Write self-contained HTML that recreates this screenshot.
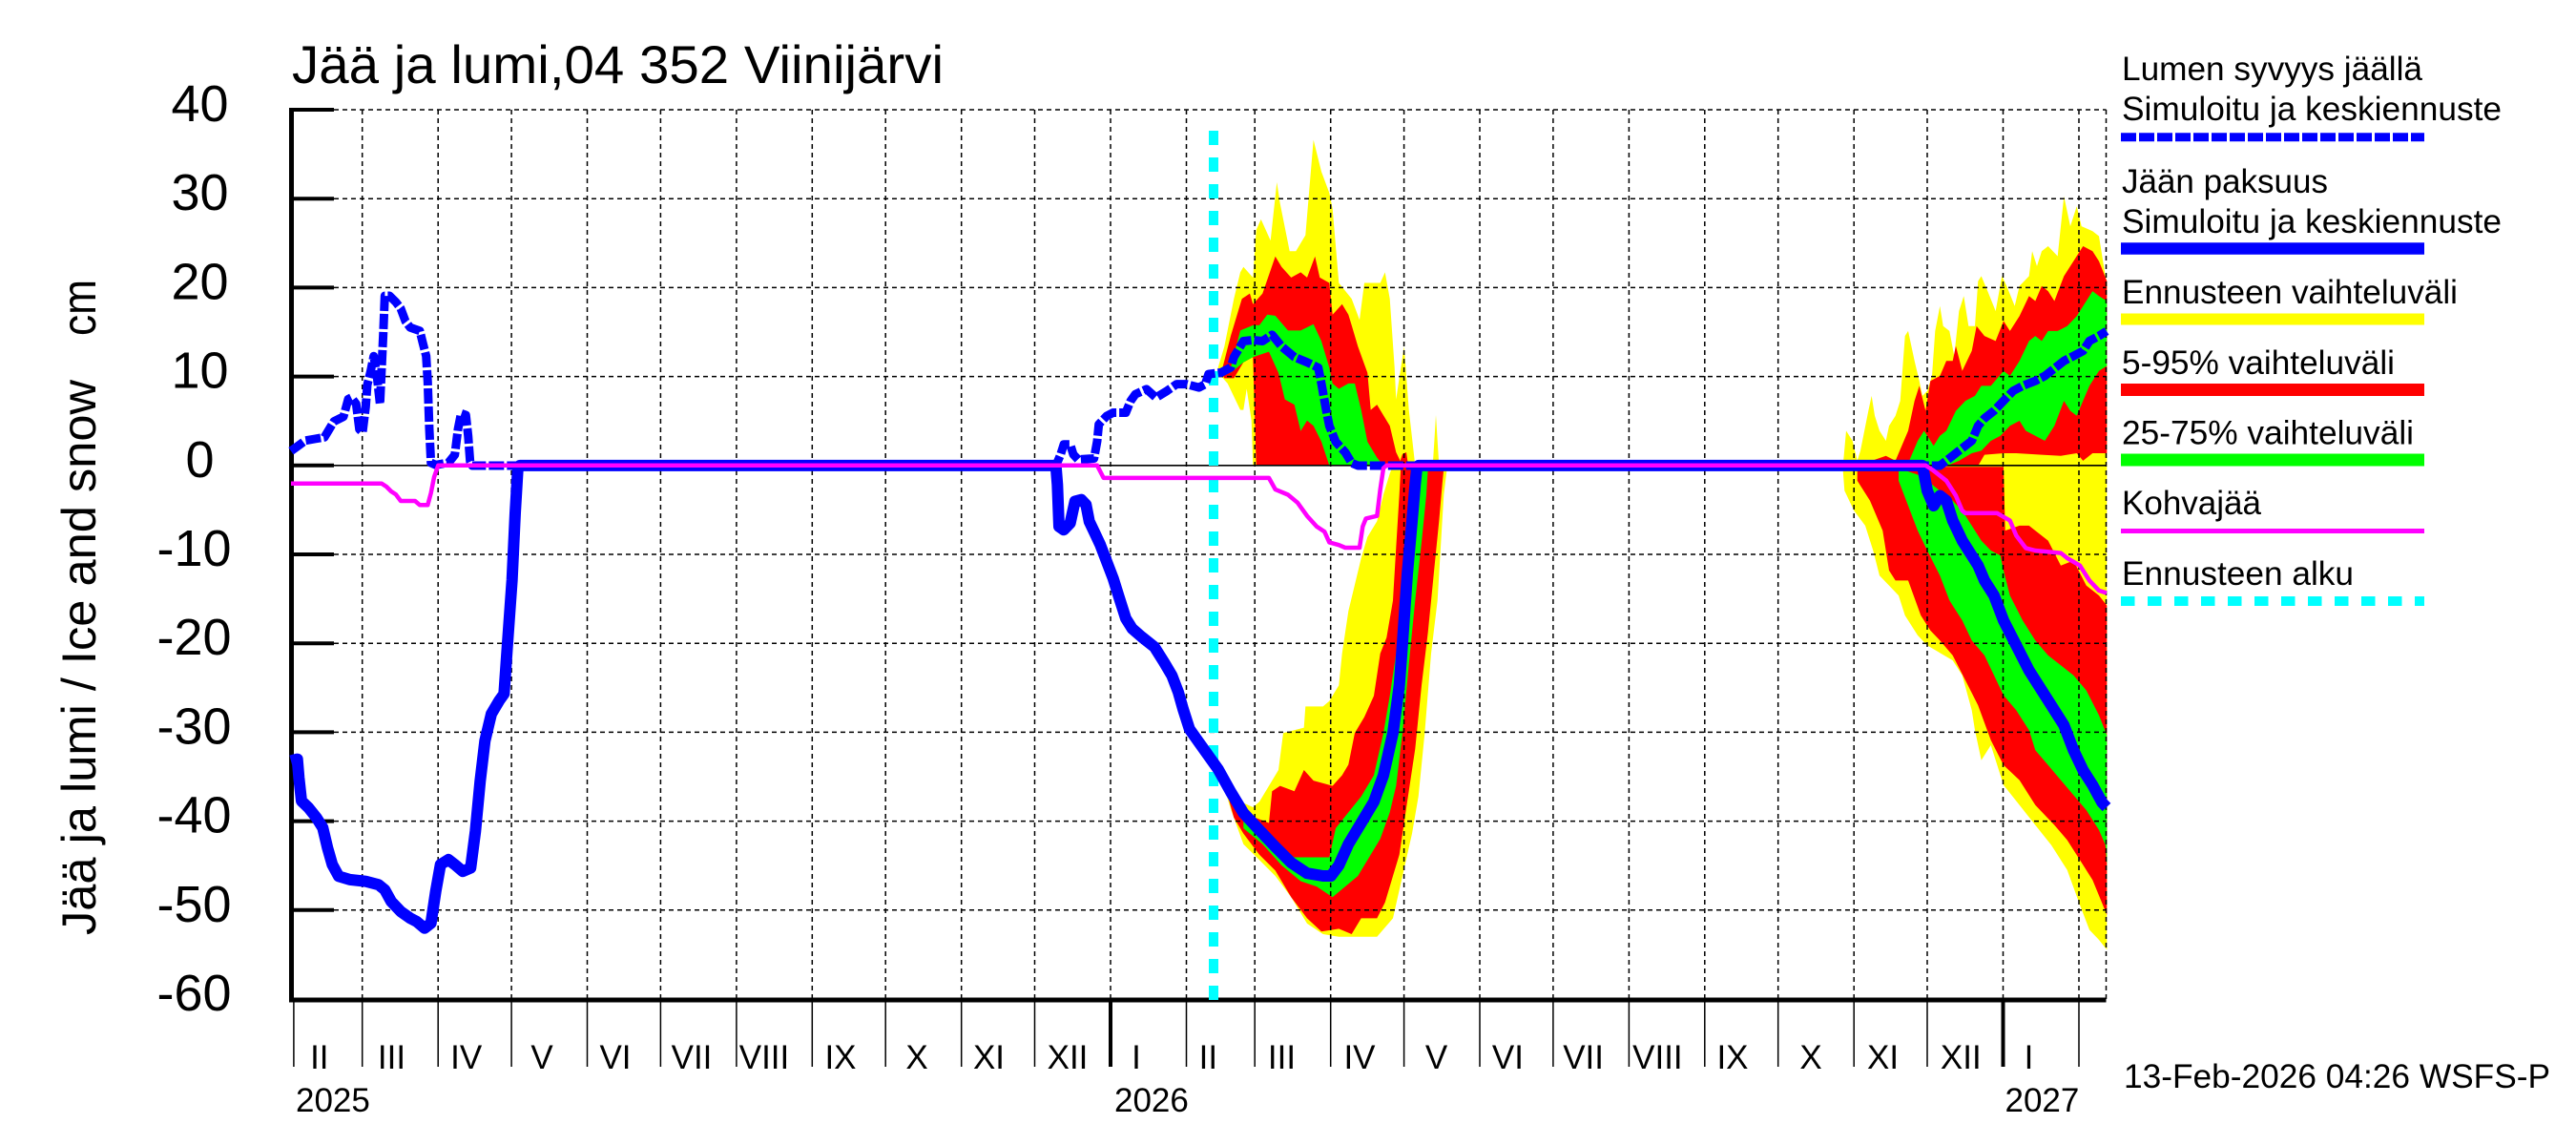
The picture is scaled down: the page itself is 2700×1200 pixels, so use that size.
<!DOCTYPE html>
<html><head><meta charset="utf-8"><style>
html,body{margin:0;padding:0;background:#fff;}
svg{display:block;}
text{font-family:"Liberation Sans",Arial,sans-serif;fill:#000;}
</style></head><body>
<svg width="2700" height="1200" viewBox="0 0 2700 1200" xmlns="http://www.w3.org/2000/svg">
<rect width="2700" height="1200" fill="#fff"/>

<!-- ===== Bands spring 2026 ===== -->
<polygon fill="#ffff00" points="1276.7,385.3 1283.3,363.1 1293.3,313.1 1300,285.4 1303.3,279.8 1313.3,290.9 1316.7,241 1321.7,229.9 1331.7,252.1 1338.3,191 1341.7,213.2 1351.7,263.2 1358.3,263.2 1368.3,246.5 1376.7,146.6 1385,179.9 1393.3,202.1 1396.7,218.8 1403.3,296.5 1416.7,313.1 1425,335.3 1430,296.5 1446.7,296.5 1451.7,285.4 1456.7,313.1 1461.7,385.3 1463.3,418.6 1468.3,385.3 1471.7,363.1 1476.7,429.6 1483.3,487.9 1313.3,487.9 1311.7,440.7 1306.7,407.5 1303.3,429.6 1300,429.6 1286.7,401.9 1276.7,390.8"/>
<polygon fill="#ffff00" points="1501.7,487.9 1503.4,462 1505,435 1506.7,462 1508.3,487.9"/>
<polygon fill="#ff0000" points="1280,390.8 1290,352 1301.7,313.1 1310,307.6 1313.3,318.7 1323.3,307.6 1336.7,268.7 1343.3,279.8 1353.3,290.9 1363.3,285.4 1370,290.9 1378.3,268.7 1383.3,290.9 1393.3,296.5 1396.7,329.8 1406.7,318.7 1413.3,329.8 1416.7,340.9 1423.3,363.1 1433.3,390.8 1436.7,429.6 1443.3,424.1 1450,435.2 1456.7,446.3 1463.3,474 1470,487.9 1316.7,487.9 1313.3,374.2 1303.3,379.7 1293.3,396.4 1283.3,396.4"/>
<polygon fill="#ff0000" points="1466,487.9 1470,476 1474,474 1476,487.9"/>
<polygon fill="#00ff00" points="1286.7,388 1290,385.3 1300,346.4 1313.3,340.9 1320,340.9 1328.3,329.8 1336.7,330.9 1350,346.4 1363.3,346.4 1376.7,339.8 1385,357.5 1393.3,385.3 1396.7,401.9 1403.3,407.5 1413.3,401.9 1420,401.9 1426.7,429.6 1433.3,463 1443.3,479.6 1450,487.9 1393.3,487.9 1385,462.9 1376.7,446.3 1370,440.7 1363.3,451.8 1356.7,424.1 1346.7,418.6 1340,390.8 1330,368.6 1313.3,374.2 1303.3,379.7 1290,390.8"/>

<polygon fill="#ffff00" points="1284,828 1300,840 1313.3,846 1320,840.3 1330,823.6 1340,807 1345,768.2 1366.7,762.6 1368.3,740.4 1386.7,740.4 1393.3,734.8 1403.3,718.2 1406.7,684.9 1413.3,640.5 1420,612.8 1426.7,585 1433.3,562.8 1443.3,546.2 1450,518.4 1456.7,496.2 1460,487.9 1516.7,490.7 1513.3,518.4 1510,573.9 1506.7,629.4 1500,684.9 1493.3,768.2 1486.7,834.8 1480,873.6 1470,918 1460,962.4 1443.3,981.8 1420,981.8 1403.3,981.8 1386.7,979 1370,967.9 1353.3,940.2 1336.7,918 1320,901.3 1303.3,884.7 1290,848"/>
<polygon fill="#ff0000" points="1288,838 1313.3,856 1330,862.5 1333.3,829.2 1341.7,823.6 1356.7,829.2 1366.7,807 1376.7,818.1 1396.7,823.6 1406.7,812.5 1413.3,801.4 1420,768.2 1430,751.5 1440,729.3 1446.7,684.9 1453.3,668.3 1460,629.4 1463.3,573.9 1466.7,518.4 1468.3,487.9 1513.3,490.7 1511.7,507.3 1508.3,546.2 1503.3,596.1 1496.7,662.7 1490,718.2 1483.3,784.8 1473.3,851.4 1466.7,895.8 1460,918 1451.7,945.7 1443.3,962.4 1426.7,962.4 1416.7,979 1403.3,973.4 1385,976.2 1370,962.4 1353.3,940.2 1336.7,912.4 1320,895.8 1303.3,873.6 1293.3,856.9"/>
<polygon fill="#00ff00" points="1303.3,860 1323.3,873.6 1343.3,890.2 1356.7,898.5 1393.3,898.5 1400,868 1413.3,851.4 1426.7,834.8 1440,812.5 1450,768.2 1456.7,729.3 1463.3,684.9 1468.3,629.4 1473.3,562.8 1478.3,518.4 1480,490.7 1496.7,490.7 1495,518.4 1490,568.4 1483.3,629.4 1476.7,696 1470,768.2 1463.3,823.6 1456.7,851.4 1446.7,879.1 1436.7,895.8 1423.3,918 1410,929.1 1396.7,940.2 1380,929.1 1363.3,923.5 1343.3,906.9 1323.3,884.7 1303.3,868"/>

<!-- ===== Bands autumn 2026 / winter 2027 ===== -->
<polygon fill="#ffff00" points="1931.7,488.1 1935,451.5 1941.7,462 1946.7,482.9 1950,472.4 1958.3,430.6 1961.7,414.9 1965,435.8 1970,451.5 1976.7,462 1980,446.3 1986.7,435.8 1991.7,420.1 1996.7,352.1 2000,346.9 2006.7,378.3 2011.7,399.2 2015,414.9 2020,409.7 2025,394 2028.3,346.9 2033.3,320.8 2036.7,341.7 2043.3,346.9 2048.3,373.1 2053.3,326 2058.3,310.3 2063.3,341.7 2070,341.7 2073.3,294.6 2076.7,289.4 2083.3,305.1 2091.7,326 2098.3,289.4 2103.3,299.8 2111.7,320.8 2116.7,299.8 2126.7,289.4 2130,263.2 2135,278.9 2140,263.2 2146.7,258 2156.7,268.5 2163.3,205.7 2170,237.1 2176.7,216.2 2181.7,237.1 2193.3,242.3 2200,247.5 2206.7,289.4 2208.3,294.6 2208.3,488.1 1931.7,488.1"/>
<polygon fill="#ff0000" points="1946.7,488.1 1976.7,477.7 1986.7,482.9 2000,451.5 2006.7,420.1 2011.7,404.4 2018.3,430.6 2023.3,399.2 2033.3,394 2040,378.3 2046.7,378.3 2050,362.6 2056.7,388.7 2066.7,367.8 2071.7,341.7 2080,352.1 2091.7,357.4 2100,336.4 2106.7,346.9 2116.7,331.2 2126.7,310.3 2133.3,315.5 2140,299.8 2146.7,305.1 2153.3,315.5 2163.3,289.4 2173.3,273.7 2183.3,258 2193.3,263.2 2200,273.7 2208.3,294.6 2208.3,475 2193.3,475 2183.3,482.9 2176.7,475 2160,477.7 2140,476.6 2113.3,475 2100,475 2080,476.6 2073.3,488.1 2000,488.1"/>
<polygon fill="#00ff00" points="2000,485.5 2010,462 2016.7,451.5 2026.7,467.2 2033.3,456.7 2040,451.5 2050,430.6 2060,420.1 2070,414.9 2076.7,404.4 2086.7,404.4 2100,388.7 2106.7,394 2116.7,378.3 2126.7,357.4 2133.3,352.1 2140,357.4 2146.7,346.9 2156.7,346.9 2166.7,341.7 2176.7,331.2 2186.7,315.5 2193.3,305.1 2200,310.3 2208.3,315.5 2208.3,383.5 2200,388.7 2190,404.4 2183.3,420.1 2176.7,435.8 2170,430.6 2163.3,420.1 2153.3,446.3 2143.3,462 2133.3,456.7 2123.3,451.5 2116.7,441 2106.7,446.3 2096.7,456.7 2086.7,462 2076.7,472.4 2066.7,475 2053.3,482.9 2043.3,487.1 2010,488.1"/>

<polygon fill="#ffff00" points="1931.7,488.1 2208.3,488.1 2208.3,995.4 2200,985 2190,974.5 2180,948.4 2166.7,911.8 2150,885.6 2133.3,864.7 2116.7,843.8 2100,822.8 2086.7,781 2076.7,796.7 2070,765.3 2066.7,744.4 2056.7,707.8 2046.7,692.1 2033.3,684.2 2020,676.4 2010,665.9 1996.7,645 1990,624.1 1980,613.6 1970,603.2 1963.3,577 1955,550.9 1943.3,535.2 1933.3,514.3 1931.7,493.3"/>
<polygon fill="#ff0000" points="1946.7,489.2 2100,489.2 2101.7,556.1 2116.7,550.9 2126.7,550.9 2133.3,556.1 2146.7,566.6 2160,592.7 2173.3,587.5 2186.7,613.6 2200,624.1 2208.3,634.6 2208.3,958.8 2193.3,922.2 2180,901.3 2166.7,880.4 2153.3,864.7 2133.3,843.8 2116.7,817.6 2100,801.9 2086.7,775.8 2073.3,739.2 2060,713 2046.7,686.9 2033.3,671.2 2023.3,660.7 2013.3,645 2000,608.4 1986.7,608.4 1980,597.9 1973.3,556.1 1960,524.7 1946.7,503.8"/>
<polygon fill="#00ff00" points="1990,490.7 2010,497.5 2020,503.8 2033.3,514.3 2046.7,524.7 2056.7,535.2 2066.7,550.9 2076.7,566.6 2086.7,577 2096.7,582.3 2100,597.9 2106.7,624.1 2120,650.3 2133.3,671.2 2146.7,686.9 2160,697.3 2173.3,707.8 2186.7,723.5 2200,749.6 2208.3,770.5 2208.3,906.5 2206.7,885.6 2200,869.9 2186.7,849 2173.3,833.3 2160,817.6 2146.7,801.9 2133.3,786.2 2126.7,765.3 2113.3,744.4 2100,728.7 2090,707.8 2080,686.9 2066.7,671.2 2056.7,650.3 2043.3,629.3 2033.3,603.2 2020,577 2010,556.1 2000,530 1990,503.8"/>

<!-- ===== Grid ===== -->
<g stroke="#000" stroke-width="1.5" stroke-dasharray="5,4" fill="none">
<path d="M350,115H2207.5M350,208.2H2207.5M350,301.4H2207.5M350,394.6H2207.5M350,581H2207.5M350,674.2H2207.5M350,767.4H2207.5M350,860.6H2207.5M350,953.8H2207.5"/>
<path d="M379.7,115V1047M459.2,115V1047M536.1,115V1047M615.5,115V1047M692.4,115V1047M771.9,115V1047M851.3,115V1047M928.2,115V1047M1007.7,115V1047M1084.5,115V1047M1164,115V1047M1243.5,115V1047M1315.2,115V1047M1394.7,115V1047M1471.6,115V1047M1551,115V1047M1627.9,115V1047M1707.4,115V1047M1786.8,115V1047M1863.7,115V1047M1943.2,115V1047M2020,115V1047M2099.5,115V1047M2179,115V1047M2207.5,115V1047"/>
</g>
<path d="M350,487.8H2207.5" stroke="#000" stroke-width="1.6" fill="none"/>
<!-- y ticks -->
<g stroke="#000" stroke-width="4" fill="none">
<path d="M306,115H350M306,208.2H350M306,301.4H350M306,394.6H350M306,487.8H350M306,581H350M306,674.2H350M306,767.4H350M306,860.6H350M306,953.8H350"/>
</g>
<!-- x ticks below axis -->
<g stroke="#000" stroke-width="1.5" fill="none">
<path d="M307.9,1048V1118M379.7,1048V1118M459.2,1048V1118M536.1,1048V1118M615.5,1048V1118M692.4,1048V1118M771.9,1048V1118M851.3,1048V1118M928.2,1048V1118M1007.7,1048V1118M1084.5,1048V1118M1243.5,1048V1118M1315.2,1048V1118M1394.7,1048V1118M1471.6,1048V1118M1551,1048V1118M1627.9,1048V1118M1707.4,1048V1118M1786.8,1048V1118M1863.7,1048V1118M1943.2,1048V1118M2020,1048V1118M2179,1048V1118"/>
</g>
<path d="M1164,1048V1118M2099.5,1048V1118" stroke="#000" stroke-width="4" fill="none"/>
<!-- axes -->
<path d="M305.5,113V1050.5" stroke="#000" stroke-width="5" fill="none"/>
<path d="M303,1048H2207.5" stroke="#000" stroke-width="5" fill="none"/>

<!-- forecast start -->
<path d="M1272,1048V124" stroke="#00ffff" stroke-width="10" stroke-dasharray="15,13" fill="none"/>

<!-- snow line (dashed) -->
<path fill="none" stroke="#0000ff" stroke-width="9" stroke-dasharray="16,3" stroke-linejoin="round" d="M305,472.7 L313.3,466.7 320,461.7 330,460 340,458.3 345,450 350,441.7 360,436.7 365,418.3 368.3,416.7 373.3,423.3 376.7,450 380,453.3 383.3,426.7 385,403.3 388.3,390 391.7,373.3 395,393.3 398.3,423.3 401.7,350 403.3,310 408.3,310 415,316.7 420,323.3 425,336.7 430,343.3 440,346.7 443.3,360 446.7,373.3 448.3,400 450,450 451.7,485 456.7,487.3 470,485 476.7,476.7 480,450 483.3,433.3 488.3,435 490.7,456.7 492.7,483.3 495,488 1106.7,488 1111.7,476.3 1115,465.8 1121.7,465.8 1125,476.3 1130,481.6 1146.7,480.5 1150,462.3 1151.7,444.7 1160,436 1166.7,432.5 1180,432.5 1185,420.2 1190,413.2 1201.7,407.9 1211.7,416.7 1223.3,409.6 1233.3,402.6 1243.3,402.6 1256.7,406.1 1263.3,402.6 1266.7,392.1 1280,390.4 1290,385.1 1293.3,374.2 1303.3,357.5 1313.3,356.4 1323.3,357.5 1333.3,350.9 1343.3,363.1 1356.7,374.2 1370,379.7 1381.7,385.3 1385,401.9 1390,429.7 1393.3,446.3 1400,463 1410,474.1 1416.7,485.2 1423.3,488 2033.3,488 2043.3,480.3 2053.3,472.4 2066.7,462 2073.3,446.3 2080,438.4 2090,430.6 2100,420.1 2110,409.7 2120,404.4 2133.3,399.2 2143.3,394 2153.3,386.1 2163.3,378.3 2173.3,373.1 2183.3,367.8 2190,357.4 2200,352.1 2208,347"/>

<!-- ice line -->
<path fill="none" stroke="#0000ff" stroke-width="12" stroke-linejoin="round" d="M305,797.4 L311.7,795.6 313.3,814.9 316,839.5 323.3,846.5 331.7,857 338.3,867.5 343.3,888.6 348.3,906.1 355,918.4 366.7,921.9 383.3,923.7 396.7,927.2 403.3,932.5 410,944.7 420,955.3 430,962.3 436.7,965.8 445,972.8 451.7,967.5 456.7,934.2 461.7,906.1 470,900.9 476.7,906.1 485,913.2 493.3,909.6 498.3,871.1 503.3,818.4 508.3,776.3 515,748.2 523.3,734.2 528.3,727.2 531.7,678.1 536.7,607.9 540,537.7 542.7,492.1 545,487.9 1106.7,487.9 1108.3,507.9 1110,551.8 1115,555.3 1121.7,548.2 1126.7,525.4 1133.3,523.7 1138.3,528.9 1141.7,546.5 1146.7,557 1153.3,571.1 1160,588.6 1166.7,606.1 1173.3,627.2 1180,648.2 1186.7,658.8 1196.7,667.5 1210,678.1 1220,693.9 1228.3,707.9 1235,725.4 1240,743 1246.7,764 1256.7,778.1 1266.7,792.1 1276.7,806.1 1290,830 1303.3,852 1320,870 1336.7,887.5 1353.3,904.1 1370,915.2 1386.7,918 1395,918 1403.3,906.9 1413.3,884.7 1426.7,862.5 1440,840.3 1450,812.6 1460,768.2 1466.7,718.2 1470,673.8 1475,601.7 1480,546.2 1483.3,507.4 1485,490.7 1487,487.9 2015,487.9 2020,514.3 2026.7,530 2033.3,519.5 2040,524.7 2046.7,545.6 2056.7,566.6 2066.7,582.3 2073.3,592.7 2080,608.4 2090,624.1 2100,650.3 2113.3,676.4 2126.7,702.6 2140,723.5 2153.3,744.4 2163.3,760.1 2173.3,786.2 2183.3,807.1 2193.3,822.8 2203.3,841.1 2208,846"/>

<!-- kohvajää -->
<path fill="none" stroke="#ff00ff" stroke-width="4.5" stroke-linejoin="round" d="M305,506.7 L400,506.7 405,510 410,515 415,518.3 420,525 435,525 440,529.3 448.3,529.3 451.7,516.7 455,500 459.3,487.8 1150,487.8 1156.7,500.9 1330,500.9 1336.7,512.9 1350,518.5 1360,526.8 1370,540.7 1380,551.8 1388.3,557.3 1393.3,568.4 1403.3,571.2 1410,574 1425,574 1428.3,551.8 1431.7,543.4 1443.3,540.7 1446.7,512.9 1450,490.7 1453.3,487.8 2018.3,487.8 2026.7,493.3 2040,503.8 2050,519.5 2056.7,535.2 2060,537.8 2093.3,537.8 2106.7,545.6 2113.3,561.3 2123.3,574.4 2133.3,577 2160,579.6 2166.7,584.9 2180,592.7 2190,608.4 2200,618.9 2208,621.5"/>

<!-- ===== Text ===== -->
<text x="306" y="87" font-size="56" textLength="683" lengthAdjust="spacingAndGlyphs">Jää ja lumi,04 352 Viinijärvi</text>

<g font-size="54" text-anchor="middle">
<text x="209.5" y="127">40</text>
<text x="209.5" y="220.2">30</text>
<text x="209.5" y="313.4">20</text>
<text x="209.5" y="406.6">10</text>
<text x="209.5" y="499.8">0</text>
<text x="203.5" y="593">-10</text>
<text x="203.5" y="686.2">-20</text>
<text x="203.5" y="779.4">-30</text>
<text x="203.5" y="872.6">-40</text>
<text x="203.5" y="965.8">-50</text>
<text x="203.5" y="1059">-60</text>
</g>

<text transform="translate(100,980) rotate(-90)" font-size="50" textLength="582" lengthAdjust="spacingAndGlyphs">Jää ja lumi / Ice and snow</text>
<text transform="translate(100,352) rotate(-90)" font-size="50" textLength="59" lengthAdjust="spacingAndGlyphs">cm</text>

<g font-size="35" text-anchor="middle">
<text x="334.8" y="1120">II</text>
<text x="410.5" y="1120">III</text>
<text x="488.7" y="1120">IV</text>
<text x="568" y="1120">V</text>
<text x="645" y="1120">VI</text>
<text x="725" y="1120">VII</text>
<text x="801" y="1120">VIII</text>
<text x="881" y="1120">IX</text>
<text x="961" y="1120">X</text>
<text x="1036.5" y="1120">XI</text>
<text x="1119" y="1120">XII</text>
<text x="1191" y="1120">I</text>
<text x="1266.4" y="1120">II</text>
<text x="1343.5" y="1120">III</text>
<text x="1425" y="1120">IV</text>
<text x="1505.5" y="1120">V</text>
<text x="1580.4" y="1120">VI</text>
<text x="1659.6" y="1120">VII</text>
<text x="1737.4" y="1120">VIII</text>
<text x="1816" y="1120">IX</text>
<text x="1898" y="1120">X</text>
<text x="1973.6" y="1120">XI</text>
<text x="2055.3" y="1120">XII</text>
<text x="2126.5" y="1120">I</text>
</g>
<g font-size="35">
<text x="310" y="1165">2025</text>
<text x="1168" y="1165">2026</text>
<text x="2101.5" y="1165">2027</text>
<text x="2226" y="1140" textLength="447" lengthAdjust="spacingAndGlyphs">13-Feb-2026 04:26 WSFS-P</text>
</g>

<!-- ===== Legend ===== -->
<g font-size="35">
<text x="2224" y="84" textLength="315" lengthAdjust="spacingAndGlyphs">Lumen syvyys jäällä</text>
<text x="2224" y="126" textLength="398" lengthAdjust="spacingAndGlyphs">Simuloitu ja keskiennuste</text>
<text x="2224" y="202" textLength="216" lengthAdjust="spacingAndGlyphs">Jään paksuus</text>
<text x="2224" y="244" textLength="398" lengthAdjust="spacingAndGlyphs">Simuloitu ja keskiennuste</text>
<text x="2224" y="318" textLength="352" lengthAdjust="spacingAndGlyphs">Ennusteen vaihteluväli</text>
<text x="2224" y="392" textLength="286" lengthAdjust="spacingAndGlyphs">5-95% vaihteluväli</text>
<text x="2224" y="465.5" textLength="306" lengthAdjust="spacingAndGlyphs">25-75% vaihteluväli</text>
<text x="2224" y="539" textLength="146" lengthAdjust="spacingAndGlyphs">Kohvajää</text>
<text x="2224" y="613" textLength="243" lengthAdjust="spacingAndGlyphs">Ennusteen alku</text>
</g>
<path d="M2223,143.7H2541" stroke="#0000ff" stroke-width="9" stroke-dasharray="16,3" fill="none"/>
<path d="M2223,260.5H2541" stroke="#0000ff" stroke-width="12.5" fill="none"/>
<path d="M2223,334.5H2541" stroke="#ffff00" stroke-width="12" fill="none"/>
<path d="M2223,408.5H2541" stroke="#ff0000" stroke-width="13" fill="none"/>
<path d="M2223,482H2541" stroke="#00ff00" stroke-width="13" fill="none"/>
<path d="M2223,556.5H2541" stroke="#ff00ff" stroke-width="5" fill="none"/>
<path d="M2223,630H2541" stroke="#00ffff" stroke-width="10" stroke-dasharray="14.5,13.5" fill="none"/>
</svg>
</body></html>
